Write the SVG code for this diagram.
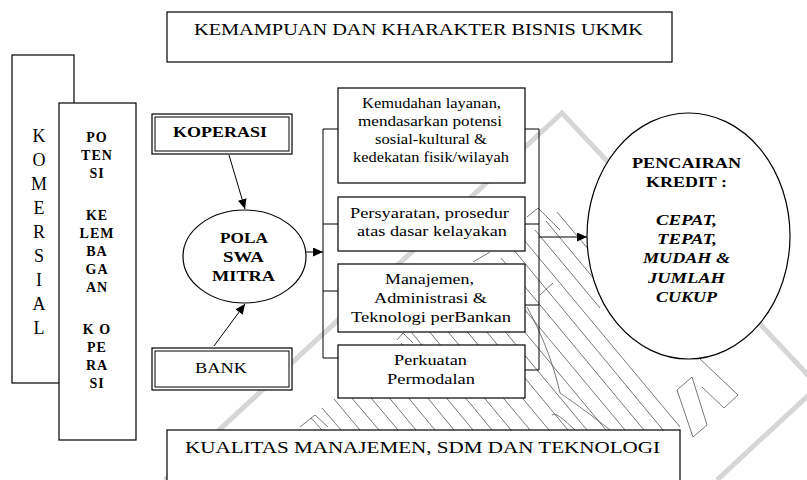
<svg xmlns="http://www.w3.org/2000/svg" width="807" height="480" viewBox="0 0 807 480" font-family="Liberation Serif, DejaVu Serif, serif">
<defs>
<marker id="arrow" markerWidth="10" markerHeight="9" refX="10" refY="4.5" orient="auto" markerUnits="userSpaceOnUse"><path d="M0,0 L10,4.5 L0,9 z" fill="#000"/></marker>
</defs>
<style>
.box{fill:#fff;stroke:#000;stroke-width:1.2}
.thin{fill:none;stroke:#000;stroke-width:1}
text{font-family:"Liberation Serif","DejaVu Serif",serif;fill:#000}
.r{font-size:15px}
.big{font-size:16px}
.b{font-size:15px;font-weight:bold}
.bs{font-size:14px;font-weight:bold;letter-spacing:1px}
.bi{font-size:15px;font-weight:bold;font-style:italic}
.wm{fill:none;stroke:#d6d6d6;stroke-width:5}
.wl{fill:none;stroke:#555;stroke-width:0.8}
.conn{fill:none;stroke:#000;stroke-width:1}
</style>
<rect width="807" height="480" fill="#fff"/>

<!-- background emblem: grey frame and hatched figure -->
<g id="watermark">
<path class="wm" d="M165,480 L562,113 L820,388"/>
<path class="wm" d="M812,392 L717,480"/>
<path class="wl" d="M311,418 L322,430 M322,408 L341,430 M334,399 L360,430 M345,390 L379,430 M356,380 L398,430 M367,371 L416,430 M378,361 L435,430 M390,352 L454,430 M401,343 L473,430 M412,333 L492,430 M423,324 L511,430 M434,315 L530,430 M445,305 L549,430 M457,296 L568,430 M468,287 L587,430 M479,277 L606,430 M490,268 L625,430 M501,258 L644,430 M513,249 L663,430 M524,240 L680,427 M535,230 L600,308 M546,221 L600,286 M557,212 L600,263"/>
<path class="wl" d="M300,427 L315,415 L328,427 M397,340 L403,333 L413,343 M473,262 L490,252 M527,217 L538,208 L560,230 M540,295 L553,283"/>
<path class="wl" d="M527,307 C545,340 555,370 560,393 C570,400 585,410 610,430 M552,415 C556,413 560,416 575,430"/>
<path class="wl" d="M700,359 L738,395 L724,408 L702,387 M692,377 L677,390 L693,437 L707,425 Z"/>
</g>

<!-- connectors -->
<g id="connectors">
<path class="conn" d="M229,155 L245,209" marker-end="url(#arrow)"/>
<path class="conn" d="M214,346 L245,304" marker-end="url(#arrow)"/>
<path class="conn" d="M306,252 L323,252" marker-end="url(#arrow)"/>
<path class="conn" d="M338,129 H323 V358 H338 M323,224 H338 M323,291 H338"/>
<path class="conn" d="M525,129 H539 V370 H525 M525,224 H539 M525,305 H539"/>
<path class="conn" d="M539,237 H587" marker-end="url(#arrow)"/>
</g>

<g id="title-top">
<rect class="box" x="167" y="12" width="505" height="50"/>
<text class="big" x="194" y="35" textLength="449" lengthAdjust="spacingAndGlyphs">KEMAMPUAN DAN KHARAKTER BISNIS UKMK</text>
</g>

<g id="komersial">
<rect class="box" x="12" y="55" width="62" height="328"/>
<g font-size="18" text-anchor="middle">
<text x="39" y="142">K</text><text x="39" y="166">O</text><text x="39" y="190">M</text>
<text x="39" y="214">E</text><text x="39" y="238">R</text><text x="39" y="262">S</text>
<text x="39" y="286">I</text><text x="39" y="310">A</text><text x="39" y="334">L</text>
</g>
</g>

<g id="potensi">
<rect class="box" x="59" y="103" width="77" height="337"/>
<g text-anchor="middle">
<text class="bs" x="97" y="142">PO</text><text class="bs" x="97" y="160">TEN</text><text class="bs" x="97" y="178">SI</text>
<text class="bs" x="97" y="220">KE</text><text class="bs" x="97" y="238">LEM</text><text class="bs" x="97" y="256">BA</text>
<text class="bs" x="97" y="274">GA</text><text class="bs" x="97" y="292">AN</text>
<text class="bs" x="97" y="334">K O</text><text class="bs" x="97" y="352">PE</text><text class="bs" x="97" y="370">RA</text><text class="bs" x="97" y="388">SI</text>
</g>
</g>

<g id="koperasi">
<rect class="box" x="152" y="114" width="140" height="40" stroke-width="1.5"/>
<rect class="thin" x="155" y="117" width="134" height="34"/>
<text class="b" x="173" y="137" textLength="94" lengthAdjust="spacingAndGlyphs">KOPERASI</text>
</g>

<g id="bank">
<rect class="box" x="152" y="348" width="140" height="42" stroke-width="1.5"/>
<rect class="thin" x="155" y="351" width="134" height="36"/>
<text class="r" x="195" y="373" textLength="52" lengthAdjust="spacingAndGlyphs">BANK</text>
</g>

<g id="pola-swa-mitra">
<ellipse class="box" cx="244.5" cy="256.5" rx="61.5" ry="46.5" stroke-width="1"/>
<text class="b" x="220" y="243" textLength="48" lengthAdjust="spacingAndGlyphs">POLA</text>
<text class="b" x="223" y="262" textLength="41" lengthAdjust="spacingAndGlyphs">SWA</text>
<text class="b" x="212" y="281" textLength="63" lengthAdjust="spacingAndGlyphs">MITRA</text>
</g>

<g id="kemudahan">
<rect class="box" x="338" y="88" width="187" height="95"/>
<text class="r" x="362" y="108" textLength="139" lengthAdjust="spacingAndGlyphs">Kemudahan layanan,</text>
<text class="r" x="358" y="126" textLength="144" lengthAdjust="spacingAndGlyphs">mendasarkan  potensi</text>
<text class="r" x="375" y="144" textLength="112" lengthAdjust="spacingAndGlyphs">sosial-kultural &amp;</text>
<text class="r" x="353" y="162" textLength="156" lengthAdjust="spacingAndGlyphs">kedekatan fisik/wilayah</text>
</g>

<g id="persyaratan">
<rect class="box" x="338" y="197" width="187" height="54"/>
<text class="r" x="350" y="218" textLength="159" lengthAdjust="spacingAndGlyphs">Persyaratan, prosedur</text>
<text class="r" x="357" y="236" textLength="150" lengthAdjust="spacingAndGlyphs">atas dasar kelayakan</text>
</g>

<g id="manajemen">
<rect class="box" x="338" y="264" width="187" height="68"/>
<text class="r" x="385" y="284" textLength="89" lengthAdjust="spacingAndGlyphs">Manajemen,</text>
<text class="r" x="374" y="303" textLength="113" lengthAdjust="spacingAndGlyphs">Administrasi &amp;</text>
<text class="r" x="351" y="322" textLength="160" lengthAdjust="spacingAndGlyphs">Teknologi perBankan</text>
</g>

<g id="permodalan">
<rect class="box" x="338" y="345" width="187" height="53"/>
<text class="r" x="394" y="365" textLength="73" lengthAdjust="spacingAndGlyphs">Perkuatan</text>
<text class="r" x="387" y="384" textLength="88" lengthAdjust="spacingAndGlyphs">Permodalan</text>
</g>

<g id="pencairan">
<ellipse class="box" cx="688.5" cy="236" rx="101.5" ry="123" stroke-width="1"/>
<text class="b" x="632" y="168" textLength="109" lengthAdjust="spacingAndGlyphs">PENCAIRAN</text>
<text class="b" x="646" y="187" textLength="81" lengthAdjust="spacingAndGlyphs">KREDIT :</text>
<text class="bi" x="656" y="225" textLength="61" lengthAdjust="spacingAndGlyphs">CEPAT,</text>
<text class="bi" x="657" y="244" textLength="60" lengthAdjust="spacingAndGlyphs">TEPAT,</text>
<text class="bi" x="643" y="263" textLength="87" lengthAdjust="spacingAndGlyphs">MUDAH &amp;</text>
<text class="bi" x="648" y="283" textLength="77" lengthAdjust="spacingAndGlyphs">JUMLAH</text>
<text class="bi" x="656" y="302" textLength="61" lengthAdjust="spacingAndGlyphs">CUKUP</text>
</g>

<g id="kualitas">
<rect class="box" x="167" y="430" width="513" height="60"/>
<text class="big" x="185" y="453" textLength="475" lengthAdjust="spacingAndGlyphs">KUALITAS MANAJEMEN, SDM  DAN TEKNOLOGI</text>
</g>
</svg>
